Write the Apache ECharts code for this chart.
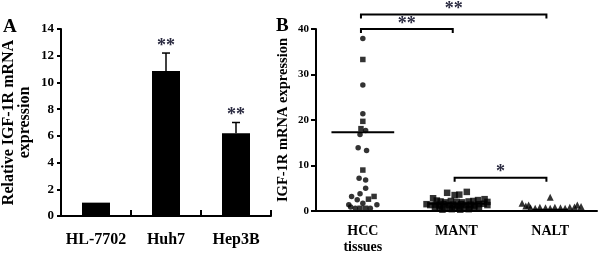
<!DOCTYPE html>
<html><head><meta charset="utf-8">
<script src="https://cdn.jsdelivr.net/npm/echarts@6/dist/echarts.min.js"></script>
<style>html,body{margin:0;padding:0;background:#fff}#c{width:600px;height:255px}</style>
</head><body><div id="c"></div>
<script>
// ---------- Panel A data ----------
const cellLines = ['HL-7702', 'Huh7', 'Hep3B'];
const cellMeans = [1.0, 10.85, 6.2];
const cellErrors = [0, 1.35, 0.8];
const cellSig = ['', '**', '**'];
const aYTicks = [0, 2, 4, 6, 8, 10, 12, 14];

// ---------- Panel B data ----------
const groups = ['HCC\ntissues', 'MANT', 'NALT'];
const bYTicks = [0, 10, 20, 30, 40];
const hccValues = [37.9, 33.3, 27.7, 21.4, 19.7, 18.1, 17.7, 16.8, 13.9, 13.3, 9.0, 7.2, 6.8, 5.0, 3.8, 3.2, 3.2, 2.5, 2.6, 1.7, 1.4, 1.4, 0.6, 0.6, 0.6, 0.6, 0.9];
const hccJitter = [0, 0, 0, 0, 0, -0.02, 0.03, -0.03, -0.05, 0.04, 0, -0.04, 0.03, 0.03, -0.03, -0.12, 0.12, -0.06, 0.06, 0, -0.15, 0.15, -0.08, -0.03, 0.03, 0.08, -0.13];
const hccShapes = ['c','s','c','c','s','s','c','c','c','c','s','c','c','c','c','c','s','c','s','c','c','c','c','s','s','c','c'];
const hccMean = 17.3;

const mantValues = [4.0, 3.5, 3.6, 4.2, 2.8, 2.3,
  2.1, 1.9, 2.2, 2.0, 1.9, 2.1, 2.2, 2.4, 2.6, 2.0,
  1.5, 1.3, 1.4, 1.2, 1.5, 1.3, 1.4, 1.2, 1.5, 1.3, 1.4, 1.2, 1.5, 1.6, 1.3,
  0.8, 0.7, 0.9, 0.6, 0.8, 0.7, 0.9, 0.6, 0.8, 0.7,
  0.3, 0.4, 0.3, 0.4];
const mantJitter = [-0.10, -0.02, 0.03, 0.11, -0.25, -0.21,
  -0.17, -0.12, -0.06, 0, 0.06, 0.13, 0.18, 0.23, 0.30, 0.33,
  -0.32, -0.28, -0.22, -0.18, -0.14, -0.08, -0.04, 0.01, 0.05, 0.10, 0.15, 0.19, 0.24, 0.29, 0.33,
  -0.23, -0.18, -0.13, -0.07, -0.02, 0.03, 0.08, 0.14, 0.19, 0.24,
  -0.15, -0.05, 0.04, 0.13];
const mantMean = 1.6;

const naltValues = [1.7, 1.3, 3.0, 1.3, 1.0, 1.1,
  0.7, 0.6, 0.8, 0.7, 0.6, 0.8, 0.7, 0.6, 0.8, 0.9];
const naltJitter = [-0.30, -0.23, 0, 0.29, 0.33, -0.26,
  -0.21, -0.16, -0.11, -0.05, 0, 0.05, 0.11, 0.16, 0.21, 0.26];
const naltMedian = 0.3;

const brackets = [
  { from: 0, to: 2, level: 43.2, sig: '**' },
  { from: 0, to: 1, level: 40.0, sig: '**' },
  { from: 1, to: 2, level: 7.3, sig: '*' }
];

// ---------- build ----------
const serif = 'Liberation Serif';
const chart = echarts.init(document.getElementById('c'), null, { renderer: 'canvas' });
const center = i => i + 0.5;

function pts(values, jitter, gi, shapeFn) {
  return values.map((v, k) => ({ value: [center(gi) + jitter[k], v], symbol: shapeFn(k) }));
}

const option = {
  animation: false,
  backgroundColor: '#fff',
  textStyle: { fontFamily: serif },
  graphic: [
    { type: 'text', left: 3, top: 18, style: { text: 'A', font: 'bold 19px "Liberation Serif"', fill: '#000' } },
    { type: 'text', left: 276, top: 17, style: { text: 'B', font: 'bold 19px "Liberation Serif"', fill: '#000' } }
  ],
  grid: [
    { left: 61, top: 29, width: 210, height: 187 },
    { left: 316, top: 29, width: 283, height: 187 }
  ],
  xAxis: [
    {
      gridIndex: 0, type: 'category', data: cellLines, boundaryGap: true,
      axisLine: { lineStyle: { color: '#000', width: 2 } },
      axisTick: { show: true, inside: true, length: 6, lineStyle: { color: '#000', width: 2 } },
      axisLabel: { interval: 0, hideOverlap: false, color: '#000', fontWeight: 'bold', fontSize: 16, fontFamily: serif, margin: 16 }
    },
    {
      gridIndex: 1, type: 'value', min: 0, max: 3, interval: 0.5,
      splitLine: { show: false },
      axisLine: { lineStyle: { color: '#000', width: 2 } },
      axisTick: { show: false },
      axisLabel: {
        color: '#000', fontWeight: 'bold', fontSize: 14, fontFamily: serif, margin: 12, lineHeight: 16,
        showMinLabel: true, showMaxLabel: true,
        formatter: v => { const i = Math.round(v - 0.5); return Math.abs(v - 0.5 - i) < 1e-6 && groups[i] ? groups[i] : ''; }
      }
    }
  ],
  yAxis: [
    {
      gridIndex: 0, type: 'value', min: aYTicks[0], max: aYTicks[aYTicks.length - 1], interval: aYTicks[1] - aYTicks[0],
      splitLine: { show: false },
      axisLine: { show: true, lineStyle: { color: '#000', width: 2 } },
      axisTick: { show: true, length: 4, lineStyle: { color: '#000', width: 2 } },
      axisLabel: { color: '#000', fontWeight: 'bold', fontSize: 13, fontFamily: serif, margin: 7 },
      name: 'Relative IGF-1R mRNA\nexpression', nameLocation: 'middle', nameRotate: 90, nameGap: 28,
      nameTextStyle: { color: '#000', fontWeight: 'bold', fontSize: 16, fontFamily: serif, lineHeight: 16 }
    },
    {
      gridIndex: 1, type: 'value', min: bYTicks[0], max: bYTicks[bYTicks.length - 1], interval: bYTicks[1] - bYTicks[0],
      splitLine: { show: false },
      axisLine: { show: true, lineStyle: { color: '#000', width: 2 } },
      axisTick: { show: true, length: 5, lineStyle: { color: '#000', width: 2 } },
      axisLabel: { color: '#000', fontWeight: 'bold', fontSize: 11, fontFamily: serif, margin: 7 },
      name: 'IGF-1R mRNA expression', nameLocation: 'middle', nameRotate: 90, nameGap: 25,
      nameTextStyle: { color: '#000', fontWeight: 'bold', fontSize: 14.5, fontFamily: serif }
    }
  ],
  series: [
    {
      type: 'bar', xAxisIndex: 0, yAxisIndex: 0, data: cellMeans, barWidth: '40%',
      itemStyle: { color: '#000' }
    },
    {
      type: 'custom', xAxisIndex: 0, yAxisIndex: 0,
      data: cellLines.map((c, i) => [i, cellMeans[i], cellErrors[i]]),
      encode: { x: 0, y: 1 },
      renderItem: function (params, api) {
        const i = api.value(0), m = api.value(1), e = api.value(2);
        const base = api.coord([i, m]);
        const top = api.coord([i, m + e]);
        const ch = [];
        if (e > 0) {
          ch.push({ type: 'line', shape: { x1: top[0], y1: base[1], x2: top[0], y2: top[1] }, style: { stroke: '#000', lineWidth: 1.5 } });
          ch.push({ type: 'line', shape: { x1: top[0] - 4, y1: top[1], x2: top[0] + 4, y2: top[1] }, style: { stroke: '#000', lineWidth: 1.5 } });
        }
        const s = cellSig[params.dataIndex];
        if (s) ch.push({ type: 'text', x: top[0], y: top[1] + 2, style: { text: s, font: 'bold 18px "Liberation Serif"', fill: '#2a2a40', align: 'center', verticalAlign: 'bottom' } });
        return { type: 'group', children: ch };
      }
    },
    {
      type: 'scatter', xAxisIndex: 1, yAxisIndex: 1, symbolSize: 5.5,
      itemStyle: { color: '#000' },
      data: pts(hccValues, hccJitter, 0, k => hccShapes[k] === 's' ? 'rect' : 'circle')
    },
    {
      type: 'scatter', xAxisIndex: 1, yAxisIndex: 1, symbolSize: 6.5,
      itemStyle: { color: '#000' },
      data: pts(mantValues, mantJitter, 1, k => 'rect')
    },
    {
      type: 'scatter', xAxisIndex: 1, yAxisIndex: 1, symbolSize: 7,
      itemStyle: { color: '#000' },
      data: pts(naltValues, naltJitter, 2, k => 'triangle')
    },
    {
      type: 'custom', xAxisIndex: 1, yAxisIndex: 1, clip: false,
      data: [[0, hccMean, 0.335], [1, mantMean, 0.3], [2, naltMedian, 0.19]],
      encode: { x: 0, y: 1 },
      renderItem: function (params, api) {
        const g = api.value(0), v = api.value(1), hw = api.value(2);
        const a = api.coord([center(g) - hw, v]);
        const b = api.coord([center(g) + hw, v]);
        return { type: 'line', shape: { x1: a[0], y1: a[1], x2: b[0], y2: b[1] }, style: { stroke: '#000', lineWidth: 2 } };
      }
    },
    {
      type: 'custom', xAxisIndex: 1, yAxisIndex: 1, clip: false,
      data: brackets.map(b => [b.from, b.to, b.level]),
      encode: { x: 0, y: 2 },
      renderItem: function (params, api) {
        const b = brackets[params.dataIndex];
        const p1 = api.coord([center(b.from) - 0.02, b.level]);
        const p2 = api.coord([center(b.to) - 0.04, b.level]);
        return {
          type: 'group', children: [
            { type: 'polyline', shape: { points: [[p1[0], p1[1] + 4], [p1[0], p1[1]], [p2[0], p2[1]], [p2[0], p2[1] + 4]] }, style: { stroke: '#000', lineWidth: 2, fill: null } },
            { type: 'text', x: (p1[0] + p2[0]) / 2, y: p1[1] + 4, style: { text: b.sig, font: 'bold 18px "Liberation Serif"', fill: '#2a2a40', align: 'center', verticalAlign: 'bottom' } }
          ]
        };
      }
    }
  ]
};
chart.setOption(option);
</script>
</body></html>
